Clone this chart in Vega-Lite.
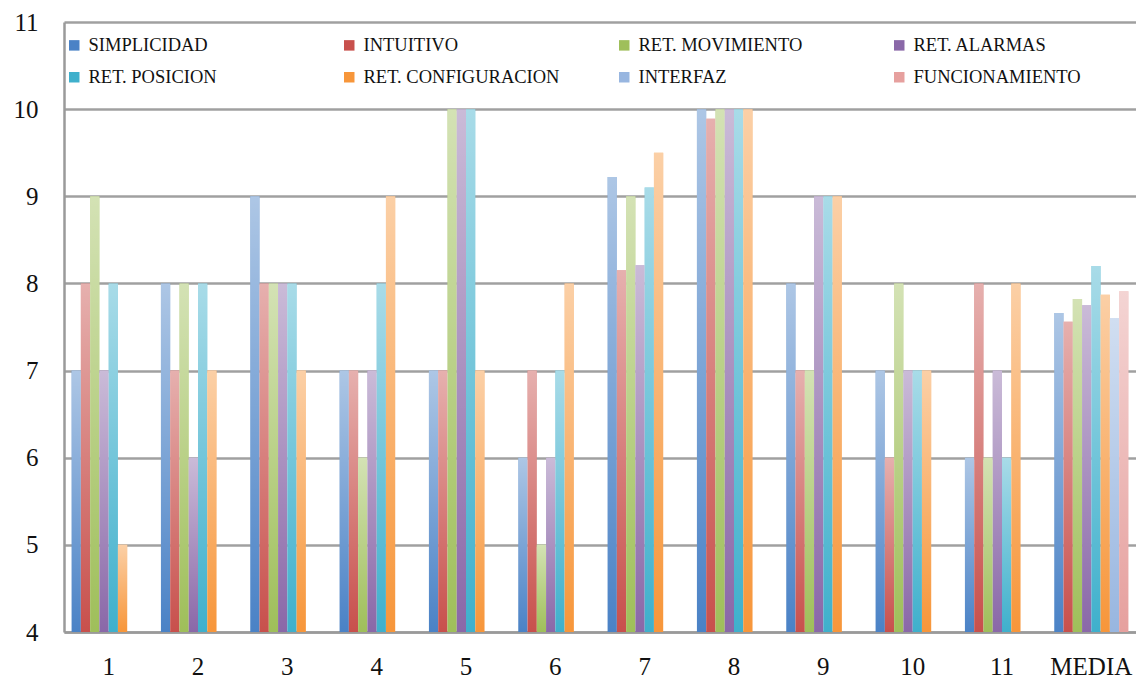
{
  "$schema": "https://vega.github.io/schema/vega-lite/v6.json",
  "width": 1072,
  "height": 610,
  "autosize": {"type": "none"},
  "padding": {"left": 64, "top": 22, "right": 0, "bottom": 46},
  "background": "white",
  "config": {
    "view": {"stroke": null},
    "font": "Liberation Serif, serif",
    "style": {"guide-label": {"font": "Liberation Serif, serif"}},
    "axis": {"labelFont": "Liberation Serif", "labelColor": "#111111"},
    "legend": {"labelFont": "Liberation Serif, serif"}
  },
  "data": {
    "values": [
      {"grupo": "1", "serie": "SIMPLICIDAD", "nota": 7},
      {"grupo": "1", "serie": "INTUITIVO", "nota": 8},
      {"grupo": "1", "serie": "RET. MOVIMIENTO", "nota": 9},
      {"grupo": "1", "serie": "RET. ALARMAS", "nota": 7},
      {"grupo": "1", "serie": "RET. POSICION", "nota": 8},
      {"grupo": "1", "serie": "RET. CONFIGURACION", "nota": 5},
      {"grupo": "2", "serie": "SIMPLICIDAD", "nota": 8},
      {"grupo": "2", "serie": "INTUITIVO", "nota": 7},
      {"grupo": "2", "serie": "RET. MOVIMIENTO", "nota": 8},
      {"grupo": "2", "serie": "RET. ALARMAS", "nota": 6},
      {"grupo": "2", "serie": "RET. POSICION", "nota": 8},
      {"grupo": "2", "serie": "RET. CONFIGURACION", "nota": 7},
      {"grupo": "3", "serie": "SIMPLICIDAD", "nota": 9},
      {"grupo": "3", "serie": "INTUITIVO", "nota": 8},
      {"grupo": "3", "serie": "RET. MOVIMIENTO", "nota": 8},
      {"grupo": "3", "serie": "RET. ALARMAS", "nota": 8},
      {"grupo": "3", "serie": "RET. POSICION", "nota": 8},
      {"grupo": "3", "serie": "RET. CONFIGURACION", "nota": 7},
      {"grupo": "4", "serie": "SIMPLICIDAD", "nota": 7},
      {"grupo": "4", "serie": "INTUITIVO", "nota": 7},
      {"grupo": "4", "serie": "RET. MOVIMIENTO", "nota": 6},
      {"grupo": "4", "serie": "RET. ALARMAS", "nota": 7},
      {"grupo": "4", "serie": "RET. POSICION", "nota": 8},
      {"grupo": "4", "serie": "RET. CONFIGURACION", "nota": 9},
      {"grupo": "5", "serie": "SIMPLICIDAD", "nota": 7},
      {"grupo": "5", "serie": "INTUITIVO", "nota": 7},
      {"grupo": "5", "serie": "RET. MOVIMIENTO", "nota": 10},
      {"grupo": "5", "serie": "RET. ALARMAS", "nota": 10},
      {"grupo": "5", "serie": "RET. POSICION", "nota": 10},
      {"grupo": "5", "serie": "RET. CONFIGURACION", "nota": 7},
      {"grupo": "6", "serie": "SIMPLICIDAD", "nota": 6},
      {"grupo": "6", "serie": "INTUITIVO", "nota": 7},
      {"grupo": "6", "serie": "RET. MOVIMIENTO", "nota": 5},
      {"grupo": "6", "serie": "RET. ALARMAS", "nota": 6},
      {"grupo": "6", "serie": "RET. POSICION", "nota": 7},
      {"grupo": "6", "serie": "RET. CONFIGURACION", "nota": 8},
      {"grupo": "7", "serie": "SIMPLICIDAD", "nota": 9.22},
      {"grupo": "7", "serie": "INTUITIVO", "nota": 8.15},
      {"grupo": "7", "serie": "RET. MOVIMIENTO", "nota": 9},
      {"grupo": "7", "serie": "RET. ALARMAS", "nota": 8.21},
      {"grupo": "7", "serie": "RET. POSICION", "nota": 9.1},
      {"grupo": "7", "serie": "RET. CONFIGURACION", "nota": 9.5},
      {"grupo": "8", "serie": "SIMPLICIDAD", "nota": 10},
      {"grupo": "8", "serie": "INTUITIVO", "nota": 9.89},
      {"grupo": "8", "serie": "RET. MOVIMIENTO", "nota": 10},
      {"grupo": "8", "serie": "RET. ALARMAS", "nota": 10},
      {"grupo": "8", "serie": "RET. POSICION", "nota": 10},
      {"grupo": "8", "serie": "RET. CONFIGURACION", "nota": 10},
      {"grupo": "9", "serie": "SIMPLICIDAD", "nota": 8},
      {"grupo": "9", "serie": "INTUITIVO", "nota": 7},
      {"grupo": "9", "serie": "RET. MOVIMIENTO", "nota": 7},
      {"grupo": "9", "serie": "RET. ALARMAS", "nota": 9},
      {"grupo": "9", "serie": "RET. POSICION", "nota": 9},
      {"grupo": "9", "serie": "RET. CONFIGURACION", "nota": 9},
      {"grupo": "10", "serie": "SIMPLICIDAD", "nota": 7},
      {"grupo": "10", "serie": "INTUITIVO", "nota": 6},
      {"grupo": "10", "serie": "RET. MOVIMIENTO", "nota": 8},
      {"grupo": "10", "serie": "RET. ALARMAS", "nota": 7},
      {"grupo": "10", "serie": "RET. POSICION", "nota": 7},
      {"grupo": "10", "serie": "RET. CONFIGURACION", "nota": 7},
      {"grupo": "11", "serie": "SIMPLICIDAD", "nota": 6},
      {"grupo": "11", "serie": "INTUITIVO", "nota": 8},
      {"grupo": "11", "serie": "RET. MOVIMIENTO", "nota": 6},
      {"grupo": "11", "serie": "RET. ALARMAS", "nota": 7},
      {"grupo": "11", "serie": "RET. POSICION", "nota": 6},
      {"grupo": "11", "serie": "RET. CONFIGURACION", "nota": 8},
      {"grupo": "MEDIA", "serie": "SIMPLICIDAD", "nota": 7.66},
      {"grupo": "MEDIA", "serie": "INTUITIVO", "nota": 7.56},
      {"grupo": "MEDIA", "serie": "RET. MOVIMIENTO", "nota": 7.82},
      {"grupo": "MEDIA", "serie": "RET. ALARMAS", "nota": 7.75},
      {"grupo": "MEDIA", "serie": "RET. POSICION", "nota": 8.2},
      {"grupo": "MEDIA", "serie": "RET. CONFIGURACION", "nota": 7.87},
      {"grupo": "MEDIA", "serie": "INTERFAZ", "nota": 7.6},
      {"grupo": "MEDIA", "serie": "FUNCIONAMIENTO", "nota": 7.91}
    ]
  },
  "encoding": {
    "x": {
      "field": "grupo",
      "type": "nominal",
      "sort": null,
      "scale": {"paddingInner": 0.17, "paddingOuter": 0.085},
      "axis": {
        "title": null,
        "labelAngle": 0,
        "labelFontSize": 25,
        "labelPadding": 22,
        "ticks": false,
        "domainColor": "#9a9a9a",
        "domainWidth": 2.5
      }
    },
    "xOffset": {
      "field": "serie",
      "type": "nominal",
      "scale": {
        "domain": ["SIMPLICIDAD", "INTUITIVO", "RET. MOVIMIENTO", "RET. ALARMAS", "RET. POSICION", "RET. CONFIGURACION", "INTERFAZ", "FUNCIONAMIENTO"],
        "paddingInner": 0,
        "paddingOuter": 0
      }
    },
    "y": {
      "field": "nota",
      "type": "quantitative",
      "scale": {"domain": [4, 11], "zero": false, "nice": false},
      "axis": {
        "title": null,
        "values": [4, 5, 6, 7, 8, 9, 10, 11],
        "labelFontSize": 25,
        "labelPadding": 26,
        "ticks": false,
        "grid": true,
        "gridColor": "#a0a0a0",
        "gridWidth": 2.5,
        "domainColor": "#9a9a9a",
        "domainWidth": 2.5
      }
    },
    "y2": {"datum": 4},
    "color": {
      "field": "serie",
      "type": "nominal",
      "scale": {
        "domain": ["SIMPLICIDAD", "INTUITIVO", "RET. MOVIMIENTO", "RET. ALARMAS", "RET. POSICION", "RET. CONFIGURACION", "INTERFAZ", "FUNCIONAMIENTO"],
        "range": ["#4a82c6", "#c8504c", "#9fbf5a", "#8a68a8", "#3fb0cc", "#f7963a", "#98b6e0", "#e6a09e"]
      },
      "legend": {
        "title": null,
        "orient": "none",
        "legendX": 1,
        "legendY": 14,
        "padding": 0,
        "direction": "horizontal",
        "columns": 4,
        "gridAlign": "all",
        "columnPadding": 55,
        "rowPadding": 13,
        "symbolType": "square",
        "symbolSize": 110,
        "symbolStrokeWidth": 0,
        "labelOffset": 5,
        "labelFont": "Liberation Serif, serif",
        "labelFontSize": 18.5,
        "labelColor": "#111111",
        "labelLimit": 400
      }
    }
  },
  "layer": [
    {"mark": {"type": "bar"}},
    {
      "mark": {"type": "bar"},
      "encoding": {
        "color": {
          "value": {
            "gradient": "linear",
            "x1": 0, "y1": 0, "x2": 0, "y2": 1,
            "stops": [
              {"offset": 0, "color": "rgba(255,255,255,0.55)"},
              {"offset": 1, "color": "rgba(255,255,255,0)"}
            ]
          }
        }
      }
    }
  ]
}
